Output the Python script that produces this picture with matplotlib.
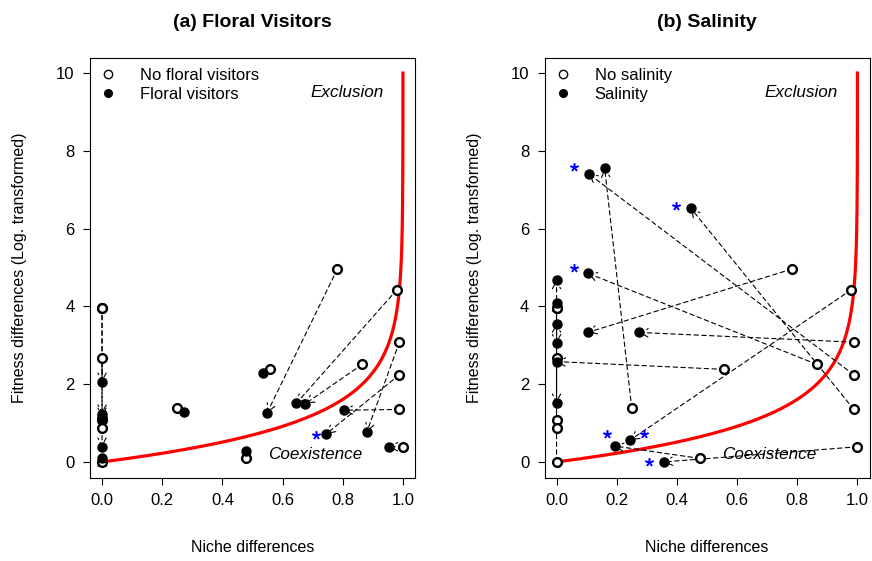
import numpy as np
import matplotlib.pyplot as plt
from matplotlib.lines import Line2D

plt.rcParams['font.family'] = ['Liberation Sans', 'DejaVu Sans']

# open points (no floral visitors / no salinity), same in both panels
ctrl_x = [0, 0, 0, 0, 0, 0, 0.25, 0.557, 0.477, 0.782, 0.98, 0.988, 0.865, 0.988, 0.988, 1.0]
ctrl_y = [3.97, 3.97, 2.68, 1.09, 0.88, 0.0, 1.38, 2.38, 0.09, 4.96, 4.43, 3.08, 2.51, 2.24, 1.35, 0.39]

# filled points, same order as the open ones (arrow open -> filled)
fv_x = [0, 0, 0, 0, 0, 0, 0.272, 0.535, 0.477, 0.549, 0.646, 0.88, 0.676, 0.745, 0.803, 0.953]
fv_y = [2.06, 1.24, 1.16, 1.10, 0.39, 0.11, 1.29, 2.28, 0.28, 1.27, 1.51, 0.77, 1.50, 0.72, 1.33, 0.39]

sal_x = [0, 0, 0, 0, np.nan, 0, 0.16, 0, 0.193, 0.104, 0.245, 0.275, 0.105, 0.107, 0.447, 0.356]
sal_y = [4.68, 3.05, 1.52, 4.10, np.nan, 3.56, 7.55, 2.58, 0.41, 3.33, 0.565, 3.33, 4.85, 7.41, 6.52, 0.0]

# significance stars
fv_star_x = [0.712]
fv_star_y = [0.70]
sal_star_x = [0.057, 0.397, 0.057, 0.168, 0.289, 0.307]
sal_star_y = [7.59, 6.59, 4.98, 0.71, 0.71, 0.0]

# coexistence boundary: fitness diff = -log(1 - niche diff)
bound_y = np.linspace(0, 10, 500)
bound_x = 1 - np.exp(-bound_y)

panels = [
    ("(a) Floral Visitors", fv_x, fv_y, fv_star_x, fv_star_y,
     ["No floral visitors", "Floral visitors"], 90),
    ("(b) Salinity", sal_x, sal_y, sal_star_x, sal_star_y,
     ["No salinity", "Salinity"], 544.5),
]

W, H = 872, 561
fig = plt.figure(figsize=(W / 100, H / 100), dpi=100)

for title, tx, ty, sx, sy, leg_labels, left_px in panels:
    ax = fig.add_axes([left_px / W, 1 - 477.5 / H, 325 / W, 420 / H])
    ax.set_xlim(-0.04, 1.04)
    ax.set_ylim(-0.4, 10.4)

    ax.plot(bound_x, bound_y, color="#FF0000", lw=2.3, zorder=2)

    for x0, y0, x1, y1 in zip(ctrl_x, ctrl_y, tx, ty):
        if np.isnan(x1) or (abs(x1 - x0) < 1e-3 and abs(y1 - y0) < 0.03):
            continue
        ax.annotate("", xy=(x1, y1), xytext=(x0, y0),
                    arrowprops=dict(arrowstyle="->,head_length=0.55,head_width=0.3",
                                    color="black", lw=0.8, linestyle=(0, (4, 3)),
                                    shrinkA=0, shrinkB=0),
                    zorder=3)

    ax.plot(ctrl_x, ctrl_y, "o", mfc="white", mec="black", ms=6.3, mew=1.7,
            linestyle="none", zorder=4)
    ax.plot(tx, ty, "o", color="black", ms=6.5, linestyle="none", zorder=5)
    ax.plot(sx, sy, marker=(5, 2, 0), color="#0000FF", ms=6, mew=1.1,
            linestyle="none", zorder=6)

    ax.text(0.813, 9.49, "Exclusion", style="italic", fontsize=12.3,
            ha="center", va="center")
    ax.text(0.708, 0.18, "Coexistence", style="italic", fontsize=12.3,
            ha="center", va="center")

    handles = [
        Line2D([], [], marker="o", mfc="white", mec="black", ms=6, mew=1.0, linestyle="none"),
        Line2D([], [], marker="o", color="black", ms=5.5, linestyle="none"),
    ]
    ax.legend(handles, leg_labels, loc="upper left", frameon=False, fontsize=12,
              borderaxespad=0.3, borderpad=0.35, handlelength=0.9,
              handletextpad=1.45, labelspacing=0.2)

    ax.set_xticks([0, 0.2, 0.4, 0.6, 0.8, 1.0])
    ax.set_xticklabels(["0.0", "0.2", "0.4", "0.6", "0.8", "1.0"])
    ax.set_yticks([0, 2, 4, 6, 8, 10])
    ax.tick_params(direction="out", length=5, width=0.8, labelsize=12, pad=6)
    for sp in ax.spines.values():
        sp.set_linewidth(0.8)

    ax.set_title(title, fontsize=14, fontweight="bold", pad=22)
    ax.set_xlabel("Niche differences", fontsize=11.5, va="center")
    ax.xaxis.set_label_coords(0.5, -(548 - 477.5) / 420)
    ax.set_ylabel("Fitness differences (Log. transformed)", fontsize=11.5, va="center")
    ax.yaxis.set_label_coords(-70 / 325, 0.5)

fig.savefig("out.png", dpi=100)
